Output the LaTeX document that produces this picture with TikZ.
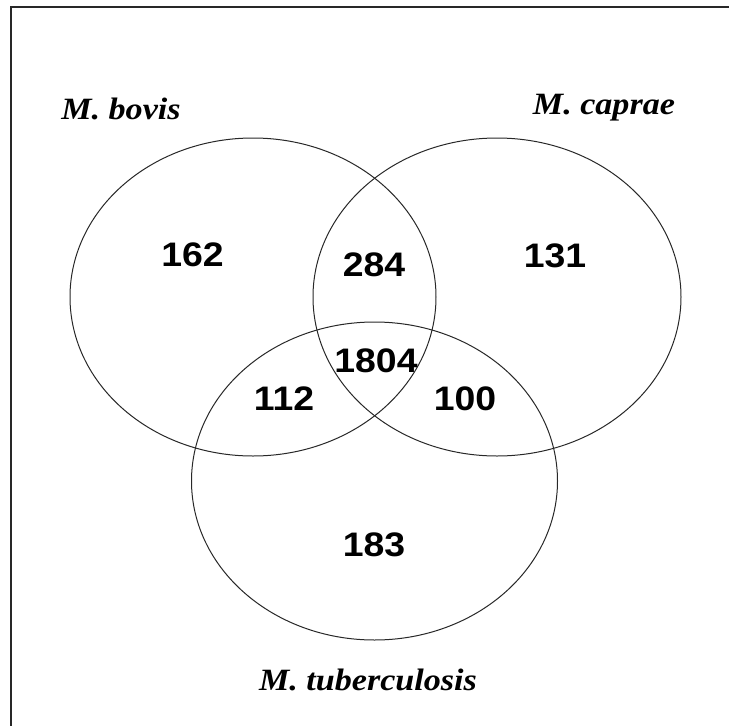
\documentclass[tikz,border=0pt]{standalone}
\usepackage{fontspec}
\usepackage{xcolor}
\usepackage{tikz}
\usetikzlibrary{shapes.geometric,positioning}
\newfontfamily\namefont{Liberation Serif}[FakeStretch=1.1]
\newfontfamily\numfont{Liberation Sans}[FakeStretch=1.1]
\definecolor{linegray}{RGB}{40,40,40}
\tikzset{
  setbox/.style ={ellipse, draw=linegray, line width=1pt,
                  inner sep=0pt, minimum width=#1, minimum height=318pt},
  setbox/.default=366pt,
  setlabel/.style={anchor=base, inner sep=0pt,
                   font=\namefont\bfseries\itshape\fontsize{31}{31}\selectfont},
  countnum/.style={anchor=base, inner sep=0pt,
                   font=\numfont\bfseries\fontsize{34}{34}\selectfont},
  framerule/.style={draw=linegray, line width=2pt},
}

\begin{document}
\begin{tikzpicture}[x=1pt,y=-1pt]
  \useasboundingbox (0,0) rectangle (729,726);
  % frame
  \coordinate (ftop) at (729,7);
  \coordinate (fcorner) at (11,7);
  \coordinate (fbot) at (11,726);
  \draw[framerule] (ftop) -- (fcorner) -- (fbot);
  % the three sets
  \node[setbox] (bovis)  at (253,297) {};
  \node[setbox=368pt] (caprae) at (497,297) {};
  \node[setbox] (tuber)  at (374.5,481) {};
  % set names
  \node[setlabel] (lbovis)  at (121,119.5) {M. bovis};
  \node[setlabel] (lcaprae) at (604,114)   {M. caprae};
  \node[setlabel] (ltuber)  at (368,690)   {M. tuberculosis};
  % counts
  \node[countnum] (onlyb) at (192.5,266.5) {162};
  \node[countnum] (onlyc) at (555,267)     {131};
  \node[countnum] (onlyt) at (374,556)     {183};
  \node[countnum] (bc)    at (374,276.5)   {284};
  \node[countnum] (bt)    at (284,410)     {112};
  \node[countnum] (ct)    at (465,410.5)   {100};
  \node[countnum] (bct)   at (376,372)     {1804};
\end{tikzpicture}
\end{document}
